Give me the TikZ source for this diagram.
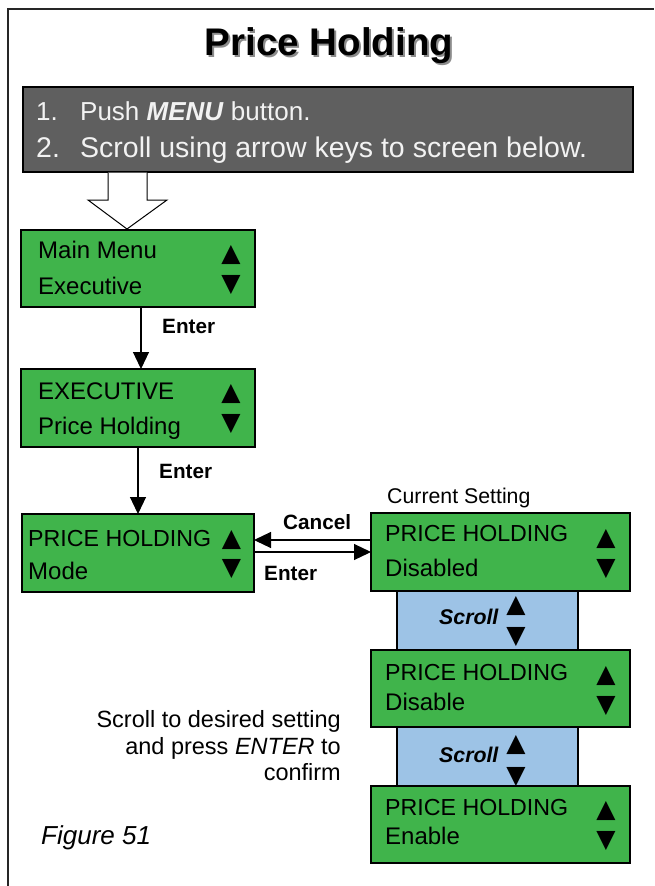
\documentclass[tikz,border=0pt]{standalone}
\usepackage{fontspec}
\setmainfont{Liberation Sans}
\newfontfamily\trifont{DejaVu Sans}
\usetikzlibrary{arrows.meta}
\definecolor{scrgreen}{RGB}{64,180,75}
\definecolor{scrblue}{RGB}{157,195,230}
\definecolor{panelgray}{RGB}{95,95,95}
\definecolor{paneltext}{RGB}{242,242,242}
\begin{document}
\begin{tikzpicture}[x=1pt,y=-1pt,
  screen/.style={draw=black,line width=1.5pt,fill=scrgreen,anchor=north west,inner sep=0pt,outer sep=0pt},
  scrollbox/.style={draw=black,line width=1.2pt,fill=scrblue,anchor=north west,inner sep=0pt,outer sep=0pt},
  scrtext/.style={anchor=base west,inner sep=0pt,font=\fontsize{24}{28}\selectfont},
  captext/.style={scrtext,font=\fontsize{23.2}{28}\selectfont},
  paneltxt/.style={anchor=base west,inner sep=0pt,text=paneltext,font=\fontsize{26}{30}\selectfont},
  keytri/.style={inner sep=0pt,font=\trifont\fontsize{25}{25}\selectfont},
  lbl/.style={anchor=base west,inner sep=0pt,font=\bfseries\fontsize{20.7}{24}\selectfont},
  scrolllbl/.style={anchor=base west,inner sep=0pt,font=\bfseries\itshape\fontsize{21.3}{24}\selectfont},
  note/.style={anchor=base east,inner sep=0pt,font=\fontsize{23.5}{27}\selectfont},
  conn/.style={line width=1.2pt,-{Triangle[width=16pt,length=17pt]}},
]
\useasboundingbox (0,0) rectangle (654,886);
% frame
\draw[line width=1.3pt,draw=black!85] (8,886) -- (8,9) -- (654,9);
% title
\node[anchor=base,inner sep=0pt,text=black!45,font=\bfseries\fontsize{38.5}{44}\selectfont] (titleshadow) at (331,57) {Price Holding};
\node[anchor=base,inner sep=0pt,font=\bfseries\fontsize{38.5}{44}\selectfont] (title) at (329,55) {Price Holding};
% instruction panel
\node[draw=black,line width=1.5pt,fill=panelgray,anchor=north west,inner sep=0pt,outer sep=0pt,minimum width=610pt,minimum height=85pt] (panel) at (23,87) {};
\node[paneltxt] (n1) at (36,120) {1.};
\node[paneltxt] (t1) at (80,120) {Push \textbf{\textit{MENU}} button.};
\node[paneltxt,font=\fontsize{28.5}{32}\selectfont] (n2) at (36,157) {2.};
\node[paneltxt,font=\fontsize{28.5}{32}\selectfont] (t2) at (80,157) {Scroll using arrow keys to screen below.};
% hollow arrow
\draw[fill=white,line width=1pt] (108,172.7) -- (108,200) -- (88,200) -- (127,229) -- (167,200) -- (147,200) -- (147,172.7);
% scroll boxes (behind screens)
\node[scrollbox,minimum width=181pt,minimum height=59pt] (S1) at (397,591) {};
\node[scrollbox,minimum width=181pt,minimum height=59pt] (S2) at (397,727) {};
% screens
\node[screen,minimum width=234pt,minimum height=77pt] (A) at (21,230) {};
\node[screen,minimum width=234pt,minimum height=78pt] (B) at (21,369) {};
\node[screen,minimum width=232pt,minimum height=78pt] (C) at (22,514) {};
\node[screen,minimum width=259pt,minimum height=78pt] (D) at (371,513) {};
\node[screen,minimum width=259pt,minimum height=77pt] (E) at (371,650) {};
\node[screen,minimum width=259pt,minimum height=77pt] (F) at (371,786) {};
% screen texts
\node[scrtext] (A1) at (38,258) {Main Menu};
\node[scrtext] (A2) at (38,294) {Executive};
\node[scrtext] (B1) at (38,399) {EXECUTIVE};
\node[scrtext] (B2) at (38,434) {Price Holding};
\node[captext] (C1) at (28,546) {PRICE HOLDING};
\node[scrtext] (C2) at (28,579) {Mode};
\node[captext] (D1) at (385,541) {PRICE HOLDING};
\node[scrtext] (D2) at (385,576) {Disabled};
\node[captext] (E1) at (385,680) {PRICE HOLDING};
\node[scrtext] (E2) at (385,710) {Disable};
\node[captext] (F1) at (385,815) {PRICE HOLDING};
\node[scrtext] (F2) at (385,844) {Enable};
% key triangles
\node[keytri] (Au) at (231,255.5) {▲};
\node[keytri] (Ad) at (231,285) {▼};
\node[keytri] (Bu) at (231,394.5) {▲};
\node[keytri] (Bd) at (231,424) {▼};
\node[keytri] (Cu) at (231.5,539.5) {▲};
\node[keytri] (Cd) at (231.5,568.5) {▼};
\node[keytri] (Du) at (606,538.5) {▲};
\node[keytri] (Dd) at (606,568.5) {▼};
\node[keytri] (Eu) at (606,675.5) {▲};
\node[keytri] (Ed) at (606,705.5) {▼};
\node[keytri] (Fu) at (606,810.5) {▲};
\node[keytri] (Fd) at (606,841) {▼};
\node[keytri] (S1u) at (516,606) {▲};
\node[keytri] (S1d) at (516,636.5) {▼};
\node[keytri] (S2u) at (516,745) {▲};
\node[keytri] (S2d) at (516,776.5) {▼};
\node[scrolllbl] (S1t) at (439,624) {Scroll};
\node[scrolllbl] (S2t) at (439,762) {Scroll};
% connectors
\draw[conn] ([xshift=3pt]A.south) -- ([xshift=3pt]A.south |- B.north);
\draw[conn] (B.south) -- (B.south |- C.north);
\draw[conn] ([yshift=12pt]D.west) -- ([yshift=12pt]D.west -| C.east);
\draw[conn] (C.east |- D.west) -- (D.west);
% labels
\node[lbl] (enter1) at (162,333) {Enter};
\node[lbl] (enter2) at (159,478) {Enter};
\node[lbl] (cancel) at (283,529) {Cancel};
\node[lbl] (enter3) at (264,580) {Enter};
\node[anchor=base west,inner sep=0pt,font=\fontsize{21.3}{24}\selectfont] (current) at (387,503) {Current Setting};
% note
\node[note] (p1) at (341,727) {Scroll to desired setting};
\node[note] (p2) at (341,754) {and press \textit{ENTER} to};
\node[note] (p3) at (341,780) {confirm};
\node[anchor=base west,inner sep=0pt,font=\itshape\fontsize{26}{30}\selectfont] (fig) at (41,844) {Figure 51};
\end{tikzpicture}
\end{document}
